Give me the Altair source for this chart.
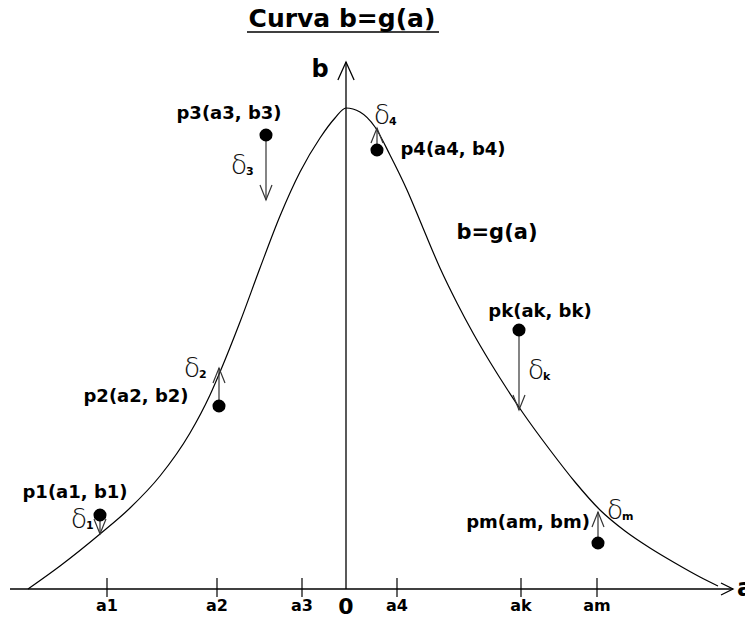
import altair as alt
import pandas as pd

# ---------------------------------------------------------------------------
# Data (a: horizontal units, b: vertical units; origin where the axes cross)
# ---------------------------------------------------------------------------

# Bell-shaped curve b = g(a), sampled along its length
curve_a = [-318, -286, -246, -216, -186, -156, -136, -126, -106, -86, -66, -46,
           -26, -11, 0, 14, 29, 44, 61, 77, 94, 111, 127, 144, 161, 177, 204,
           229, 254, 279, 304, 329, 354, 372]
curve_b = [0, 23, 55, 81, 113, 156, 194, 217, 267, 321, 373, 417, 451, 471,
           481, 477, 462, 434, 399, 361, 321, 286, 256, 227, 200, 176, 139,
           107, 79, 58, 41, 26, 12, 3]

# Tick positions on the a axis and their labels
tick_a = [-239, -129, -44, 51, 175, 251]
tick_labels = ["a1", "a2", "a3", "a4", "ak", "am"]

# Observed points p_i(a_i, b_i) and where their deviation arrow meets the curve
point_names = ["p1(a1, b1)", "p2(a2, b2)", "p3(a3, b3)", "p4(a4, b4)",
               "pk(ak, bk)", "pm(am, bm)"]
point_a = [-246, -127, -80, 31, 173, 252]
point_b = [74, 183, 454, 439, 259, 46]
arrow_tip_b = [55, 221, 389, 461, 179, 77]
delta_subs = ["1", "2", "3", "4", "k", "m"]

title_text = "Curva b=g(a)"
curve_text = "b=g(a)"

# ---------------------------------------------------------------------------
# Layout (pixel offsets: right is +x, down is +y)
# ---------------------------------------------------------------------------
W, H = 745, 619
label_off = [(-25, -22), (-83, -9), (-37, -21), (76, 0), (21, -18), (-70, -20)]
delta_off = [(-21, 5), (-27, -37), (-27, 31), (5, -34), (17, 41), (17, -32)]

x_axis_start, x_axis_end = -336, 387
y_axis_top = 527

FONT = "DejaVu Sans"
INK = "#000000"
ARROW = "#333333"

# shapes for open arrowheads (tip at the origin)
HEAD_RIGHT = "M -1 -0.5 L 0 0 L -1 0.5"
HEAD_UP_AXIS = "M -0.45 1 L 0 0 L 0.45 1"
HEAD_UP = "M -0.4 1 L 0 0 L 0.4 1"
HEAD_DOWN = "M -0.4 -1 L 0 0 L 0.4 -1"

xs = alt.Scale(domain=[-346, W - 346], nice=False, zero=False)
ys = alt.Scale(domain=[-(H - 589), 589], nice=False, zero=False)


def X(field="a"):
    return alt.X(f"{field}:Q", scale=xs, axis=None)


def Y(field="b"):
    return alt.Y(f"{field}:Q", scale=ys, axis=None)


curve_df = pd.DataFrame({"a": curve_a, "b": curve_b, "i": range(len(curve_a))})

pts = pd.DataFrame({
    "name": point_names,
    "a": point_a,
    "b": point_b,
    "tip": arrow_tip_b,
    "sub": delta_subs,
})
pts["la"] = [a + dx for a, (dx, dy) in zip(point_a, label_off)]
pts["lb"] = [b - dy for b, (dx, dy) in zip(point_b, label_off)]
pts["da"] = [a + dx for a, (dx, dy) in zip(point_a, delta_off)]
pts["db"] = [b - dy for b, (dx, dy) in zip(point_b, delta_off)]
pts["sa"] = pts["da"] + 7
pts["sb"] = pts["db"] - 6

ticks = pd.DataFrame({"a": tick_a, "label": tick_labels})
ticks["lo"] = -8
ticks["hi"] = 11
ticks["lb"] = -17

# --- curve ---
curve = alt.Chart(curve_df).mark_line(
    color=INK, strokeWidth=1.2, interpolate="monotone"
).encode(x=X(), y=Y(), order="i:Q")

# --- axes with open arrowheads ---
axes_df = pd.DataFrame({"a0": [x_axis_start], "a1": [x_axis_end], "b": [0],
                        "top": [y_axis_top], "zero": [0]})
x_axis = alt.Chart(axes_df).mark_rule(color=INK, strokeWidth=1.3).encode(
    x=X("a0"), x2="a1:Q", y=Y("b"))
x_head = alt.Chart(axes_df).mark_point(
    shape=HEAD_RIGHT, size=576, filled=False, color=INK, strokeWidth=1.3,
    opacity=1).encode(x=X("a1"), y=Y("b"))
y_axis = alt.Chart(axes_df).mark_rule(color=INK, strokeWidth=1.3).encode(
    x=X("zero"), y=Y("b"), y2="top:Q")
y_head = alt.Chart(axes_df).mark_point(
    shape=HEAD_UP_AXIS, size=1296, filled=False, color=INK, strokeWidth=1.3,
    opacity=1).encode(x=X("zero"), y=Y("top"))

tick_marks = alt.Chart(ticks).mark_rule(color=INK, strokeWidth=1.2).encode(
    x=X(), y=Y("lo"), y2="hi:Q")
tick_text = alt.Chart(ticks).mark_text(
    font=FONT, fontSize=16, fontWeight="bold", color=INK, baseline="middle"
).encode(x=X(), y=Y("lb"), text="label:N")

axis_names = pd.DataFrame({
    "a": [0, 399, -26],
    "b": [-18, 0, 519],
    "t": ["0", "a", "b"],
})
zero_label = alt.Chart(axis_names.iloc[[0]]).mark_text(
    font=FONT, fontSize=22, fontWeight="bold", color=INK, baseline="middle"
).encode(x=X(), y=Y(), text="t:N")
ab_labels = alt.Chart(axis_names.iloc[[1, 2]]).mark_text(
    font=FONT, fontSize=24, fontWeight="bold", color=INK, baseline="middle"
).encode(x=X(), y=Y(), text="t:N")

# --- title with underline ---
title_df = pd.DataFrame({"a": [-4], "b": [562], "t": [title_text],
                         "u0": [-99], "u1": [93], "ub": [557]})
title = alt.Chart(title_df).mark_text(
    font=FONT, fontSize=25, fontWeight="bold", color=INK, baseline="alphabetic"
).encode(x=X(), y=Y(), text="t:N")
underline = alt.Chart(title_df).mark_rule(color=INK, strokeWidth=1.6).encode(
    x=X("u0"), x2="u1:Q", y=Y("ub"))

curve_label_df = pd.DataFrame({"a": [151], "b": [356], "t": [curve_text]})
curve_label = alt.Chart(curve_label_df).mark_text(
    font=FONT, fontSize=21, fontWeight="bold", color=INK, baseline="middle"
).encode(x=X(), y=Y(), text="t:N")

# --- deviation arrows from each point to the curve ---
shafts = alt.Chart(pts).mark_rule(color=ARROW, strokeWidth=1.2).encode(
    x=X(), y=Y(), y2="tip:Q")
heads_up = alt.Chart(pts).transform_filter("datum.tip > datum.b").mark_point(
    shape=HEAD_UP, size=900, filled=False, color=ARROW, strokeWidth=1.2,
    opacity=1).encode(x=X(), y=Y("tip"))
heads_down = alt.Chart(pts).transform_filter("datum.tip < datum.b").mark_point(
    shape=HEAD_DOWN, size=900, filled=False, color=ARROW, strokeWidth=1.2,
    opacity=1).encode(x=X(), y=Y("tip"))

dots = alt.Chart(pts).mark_point(
    shape="circle", size=170, filled=True, color=INK, opacity=1
).encode(x=X(), y=Y())

point_labels = alt.Chart(pts).mark_text(
    font=FONT, fontSize=18, fontWeight="bold", color=INK, baseline="middle"
).encode(x=X("la"), y=Y("lb"), text="name:N")

delta_glyph = alt.Chart(pts).transform_calculate(d="'δ'").mark_text(
    font=FONT, fontSize=27, fontWeight=200, color="#111111", baseline="middle"
).encode(x=X("da"), y=Y("db"), text="d:N")
delta_sub = alt.Chart(pts).mark_text(
    font=FONT, fontSize=11, fontWeight="bold", color=INK, baseline="middle",
    align="left"
).encode(x=X("sa"), y=Y("sb"), text="sub:N")

chart = alt.layer(
    curve, x_axis, x_head, y_axis, y_head, tick_marks, tick_text, zero_label,
    ab_labels, title, underline, curve_label, shafts, heads_up, heads_down,
    dots, point_labels, delta_glyph, delta_sub,
).properties(
    width=W, height=H, padding=0, background="white",
    autosize=alt.AutoSizeParams(type="none"),
).configure_view(stroke=None)

chart.save("out.html", embed_options={"renderer": "svg", "actions": False})
